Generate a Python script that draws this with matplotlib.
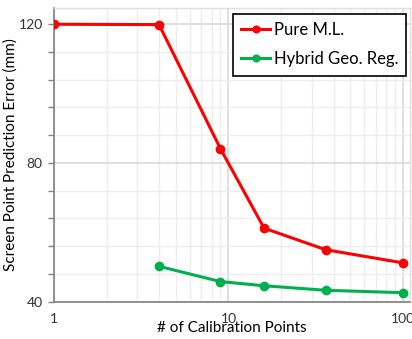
import matplotlib
matplotlib.use("Agg")
import matplotlib.pyplot as plt
from matplotlib.ticker import FixedLocator, NullFormatter, FixedFormatter

# Data
calib_ml = [1, 4, 9, 16, 36, 100]
err_ml = [120.0, 119.9, 84.1, 61.2, 55.0, 51.2]
calib_hybrid = [4, 9, 16, 36, 100]
err_hybrid = [50.2, 45.8, 44.6, 43.3, 42.6]
series_names = ["Pure M.L.", "Hybrid Geo. Reg."]
y_ticks = [40, 80, 120]
x_ticks = [1, 10, 100]

plt.rcParams['font.family'] = ['Lato', 'DejaVu Sans']

fig = plt.figure(figsize=(4.12, 3.39), dpi=100)
ax = fig.add_axes([0.131, 0.110, 0.864, 0.8655])

ax.plot(calib_ml, err_ml, color='#FF0000', lw=2.2, marker='o', ms=6, label=series_names[0], zorder=3)
ax.plot(calib_hybrid, err_hybrid, color='#00B050', lw=2.2, marker='o', ms=6, label=series_names[1], zorder=3)

ax.set_xscale('log')
ax.set_xlim(1, 109.6)
ax.set_ylim(40, 124.6)

ax.xaxis.set_major_locator(FixedLocator(x_ticks))
ax.xaxis.set_major_formatter(FixedFormatter([str(t) for t in x_ticks]))
minor_x = [m * d for d in (1, 10) for m in range(2, 10)]
ax.xaxis.set_minor_locator(FixedLocator(minor_x))
ax.xaxis.set_minor_formatter(NullFormatter())
ax.yaxis.set_major_locator(FixedLocator(y_ticks))
ax.yaxis.set_minor_locator(FixedLocator([48, 56, 64, 72, 88, 96, 104, 112]))

ax.grid(which='major', color='#D9D9D9', lw=1.2)
ax.grid(which='minor', color='#EDEDED', lw=1.0)
ax.set_axisbelow(True)

for s in ('left', 'bottom'):
    ax.spines[s].set_color('#808080')
    ax.spines[s].set_linewidth(1.2)
for s in ('top', 'right'):
    ax.spines[s].set_color('#E0E0E0')
    ax.spines[s].set_linewidth(1.0)

ax.tick_params(axis='both', which='major', labelsize=10, colors='#333333', length=4, width=1)
ax.tick_params(axis='x', which='major', length=0, pad=8)
ax.tick_params(axis='both', which='minor', length=0)
ax.tick_params(axis='y', which='minor', length=4, width=1, color='#808080')
ax.tick_params(axis='y', which='major', color='#808080', pad=4)

ax.set_xlabel("# of Calibration Points", fontsize=11, labelpad=-3)
ax.set_ylabel("Screen Point Prediction Error (mm)", fontsize=11, labelpad=1)

leg = ax.legend(loc='upper right', bbox_to_anchor=(0.99, 0.982), fontsize=12, frameon=True,
                fancybox=False, edgecolor='black', framealpha=1, handlelength=1.75, handletextpad=0.2,
                labelspacing=0.8, borderpad=0.5, borderaxespad=0.0, markerscale=0.8)
leg.get_frame().set_linewidth(1.2)

fig.savefig("out.png", dpi=100)
